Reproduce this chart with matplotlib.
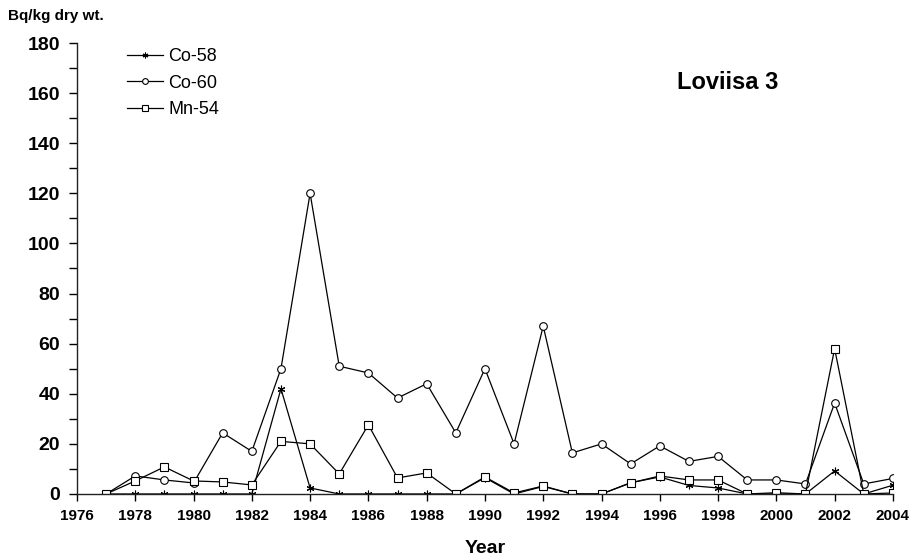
import matplotlib
matplotlib.use("Agg")
import matplotlib.pyplot as plt
from matplotlib.ticker import MultipleLocator

plt.rcParams['font.family'] = ['Liberation Sans', 'DejaVu Sans']

years = list(range(1977, 2005))

co58 = [0, 0, 0, 0, 0, 0, 42, 2.4, 0, 0, 0, 0, 0, 6.5, 0, 3, 0, 0,
        4.5, 6.8, 3.4, 2.4, 0, 0, 0, 9.2, 0, 3.5]
co60 = [0, 7.2, 5.6, 4.4, 24.4, 17, 50, 120, 51, 48.3, 38.3, 44, 24.4, 50,
        20, 67, 16.4, 20, 12, 19.2, 13, 15, 5.6, 5.6, 4, 36.3, 4, 6.2]
mn54 = [0, 5.2, 10.8, 5.2, 4.8, 3.6, 21, 20, 8, 27.6, 6.4, 8.4, 0, 6.8,
        0.4, 3.2, 0, 0, 4.4, 7.2, 5.6, 5.6, 0, 0.5, 0, 58, 0, 0.4]

fig = plt.figure(figsize=(9.13, 5.6), dpi=100)
ax = fig.add_axes([0.0843, 0.1179, 0.8937, 0.8053])

lw = 0.9
ms = 5.5
ax.plot(years, co58, color='black', lw=lw, marker=(6, 2, 0), ms=ms,
        mew=0.8, label='Co-58')
ax.plot(years, co60, color='black', lw=lw, marker='o', ms=ms,
        mfc='white', mew=0.8, label='Co-60')
ax.plot(years, mn54, color='black', lw=lw, marker='s', ms=ms,
        mfc='white', mew=0.8, label='Mn-54')

ax.set_xlim(1976, 2004)
ax.set_ylim(0, 180)
ax.xaxis.set_major_locator(MultipleLocator(2))
ax.yaxis.set_major_locator(MultipleLocator(20))
ax.yaxis.set_minor_locator(MultipleLocator(10))

for s in ['top', 'right']:
    ax.spines[s].set_visible(False)
for s in ['left', 'bottom']:
    ax.spines[s].set_linewidth(1.0)
    ax.spines[s].set_color('#222222')

ax.tick_params(axis='y', which='major', length=6, width=1, direction='out',
               labelsize=14, pad=6)
ax.tick_params(axis='y', which='minor', length=6, width=1, direction='out')
ax.tick_params(axis='x', which='major', length=5, width=1, direction='out',
               labelsize=11, pad=6)
for lab in ax.get_xticklabels() + ax.get_yticklabels():
    lab.set_fontweight('bold')

ax.set_xlabel('Year', fontsize=14, fontweight='bold', labelpad=12)
fig.text(0.009, 0.972, 'Bq/kg dry wt.', fontsize=11, fontweight='bold',
         ha='left', va='center')
ax.text(0.741, 0.852, 'Loviisa 3', transform=fig.transFigure, fontsize=17,
        fontweight='bold', ha='left', va='center')

ax.legend(loc='upper left', bbox_to_anchor=(0.121, 0.943),
          bbox_transform=fig.transFigure, frameon=False, fontsize=13,
          handlelength=2.0, handletextpad=0.3, labelspacing=0.52,
          markerscale=0.75)

fig.savefig('out.png', dpi=100)
